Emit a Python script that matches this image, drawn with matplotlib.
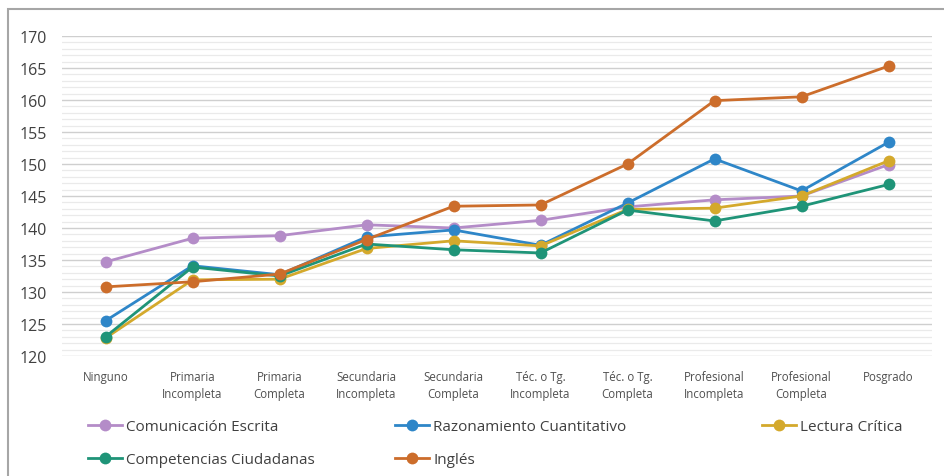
import matplotlib
matplotlib.use("Agg")
import matplotlib.pyplot as plt
from matplotlib.patches import Rectangle
from matplotlib.lines import Line2D
from matplotlib.ticker import MultipleLocator

categories = ["Ninguno", "Primaria\nIncompleta", "Primaria\nCompleta", "Secundaria\nIncompleta",
              "Secundaria\nCompleta", "Téc. o Tg.\nIncompleta", "Téc. o Tg.\nCompleta",
              "Profesional\nIncompleta", "Profesional\nCompleta", "Posgrado"]

comunicacion = [134.7, 138.4, 138.8, 140.5, 140.0, 141.2, 143.3, 144.4, 145.0, 149.9]
razonamiento = [125.5, 134.1, 132.7, 138.6, 139.7, 137.3, 143.9, 150.8, 145.8, 153.4]
lectura = [122.8, 131.9, 132.0, 136.8, 138.0, 137.2, 142.9, 143.1, 145.0, 150.5]
competencias = [123.0, 133.9, 132.5, 137.5, 136.6, 136.1, 142.8, 141.1, 143.4, 146.8]
ingles = [130.8, 131.6, 132.8, 138.2, 143.4, 143.6, 150.0, 159.9, 160.5, 165.3]

series = [
    ("Comunicación Escrita", comunicacion, "#B48CC8"),
    ("Razonamiento Cuantitativo", razonamiento, "#2E86C8"),
    ("Lectura Crítica", lectura, "#D4A92C"),
    ("Competencias Ciudadanas", competencias, "#1F9478"),
    ("Inglés", ingles, "#CC6D2B"),
]

plt.rcParams['font.family'] = ['Open Sans', 'DejaVu Sans']

fig = plt.figure(figsize=(9.44, 4.77), dpi=100)
ax = fig.add_axes([62/944, 1-357/477, (932-62)/944, (357-37)/477])

x = list(range(len(categories)))
for name, vals, col in series:
    ax.plot(x, vals, color=col, lw=2.0, marker='o', markersize=8.5,
            markeredgewidth=0, label=name, zorder=3)

ax.set_xlim(-0.5, len(categories) - 0.5)
ax.set_ylim(120, 170)
ax.yaxis.set_major_locator(MultipleLocator(5))
ax.yaxis.set_minor_locator(MultipleLocator(1))
ax.grid(which='major', axis='y', color='#CFCFCF', lw=1.0, zorder=0)
ax.grid(which='minor', axis='y', color='#EAEAEA', lw=0.9, zorder=0)
ax.set_axisbelow(True)
for s in ax.spines.values():
    s.set_visible(False)
ax.tick_params(axis='both', which='both', length=0)
ax.tick_params(axis='y', labelsize=11.5, colors='#404040', pad=11)
ax.set_xticks(x)
ax.set_xticklabels(categories, fontsize=8.3, color='#505050', linespacing=1.4)
ax.tick_params(axis='x', pad=10)

# outer frame (partially visible)
fig.patches.append(Rectangle((8/944, -0.1), 1.2, 1 - 10/477 + 0.1, transform=fig.transFigure,
                             fill=False, edgecolor='#A6A6A6', lw=1.5))

def leg_handle(col):
    return Line2D([0], [0], color=col, lw=2.0, marker='o', markersize=8.5, markeredgewidth=0)

cols = [
    (["Comunicación Escrita", "Competencias Ciudadanas"], 82),
    (["Razonamiento Cuantitativo", "Inglés"], 389),
    (["Lectura Crítica"], 756),
]
colmap = {n: c for n, _, c in series}
for names, xpix in cols:
    fig.legend([leg_handle(colmap[n]) for n in names], names,
               loc='upper left', bbox_to_anchor=(xpix/944, 1 - 414/477),
               frameon=False, fontsize=11, handlelength=2.2, handletextpad=0.3,
               labelspacing=1.2, labelcolor='#404040', borderaxespad=0)

fig.savefig("out.png", dpi=100)
